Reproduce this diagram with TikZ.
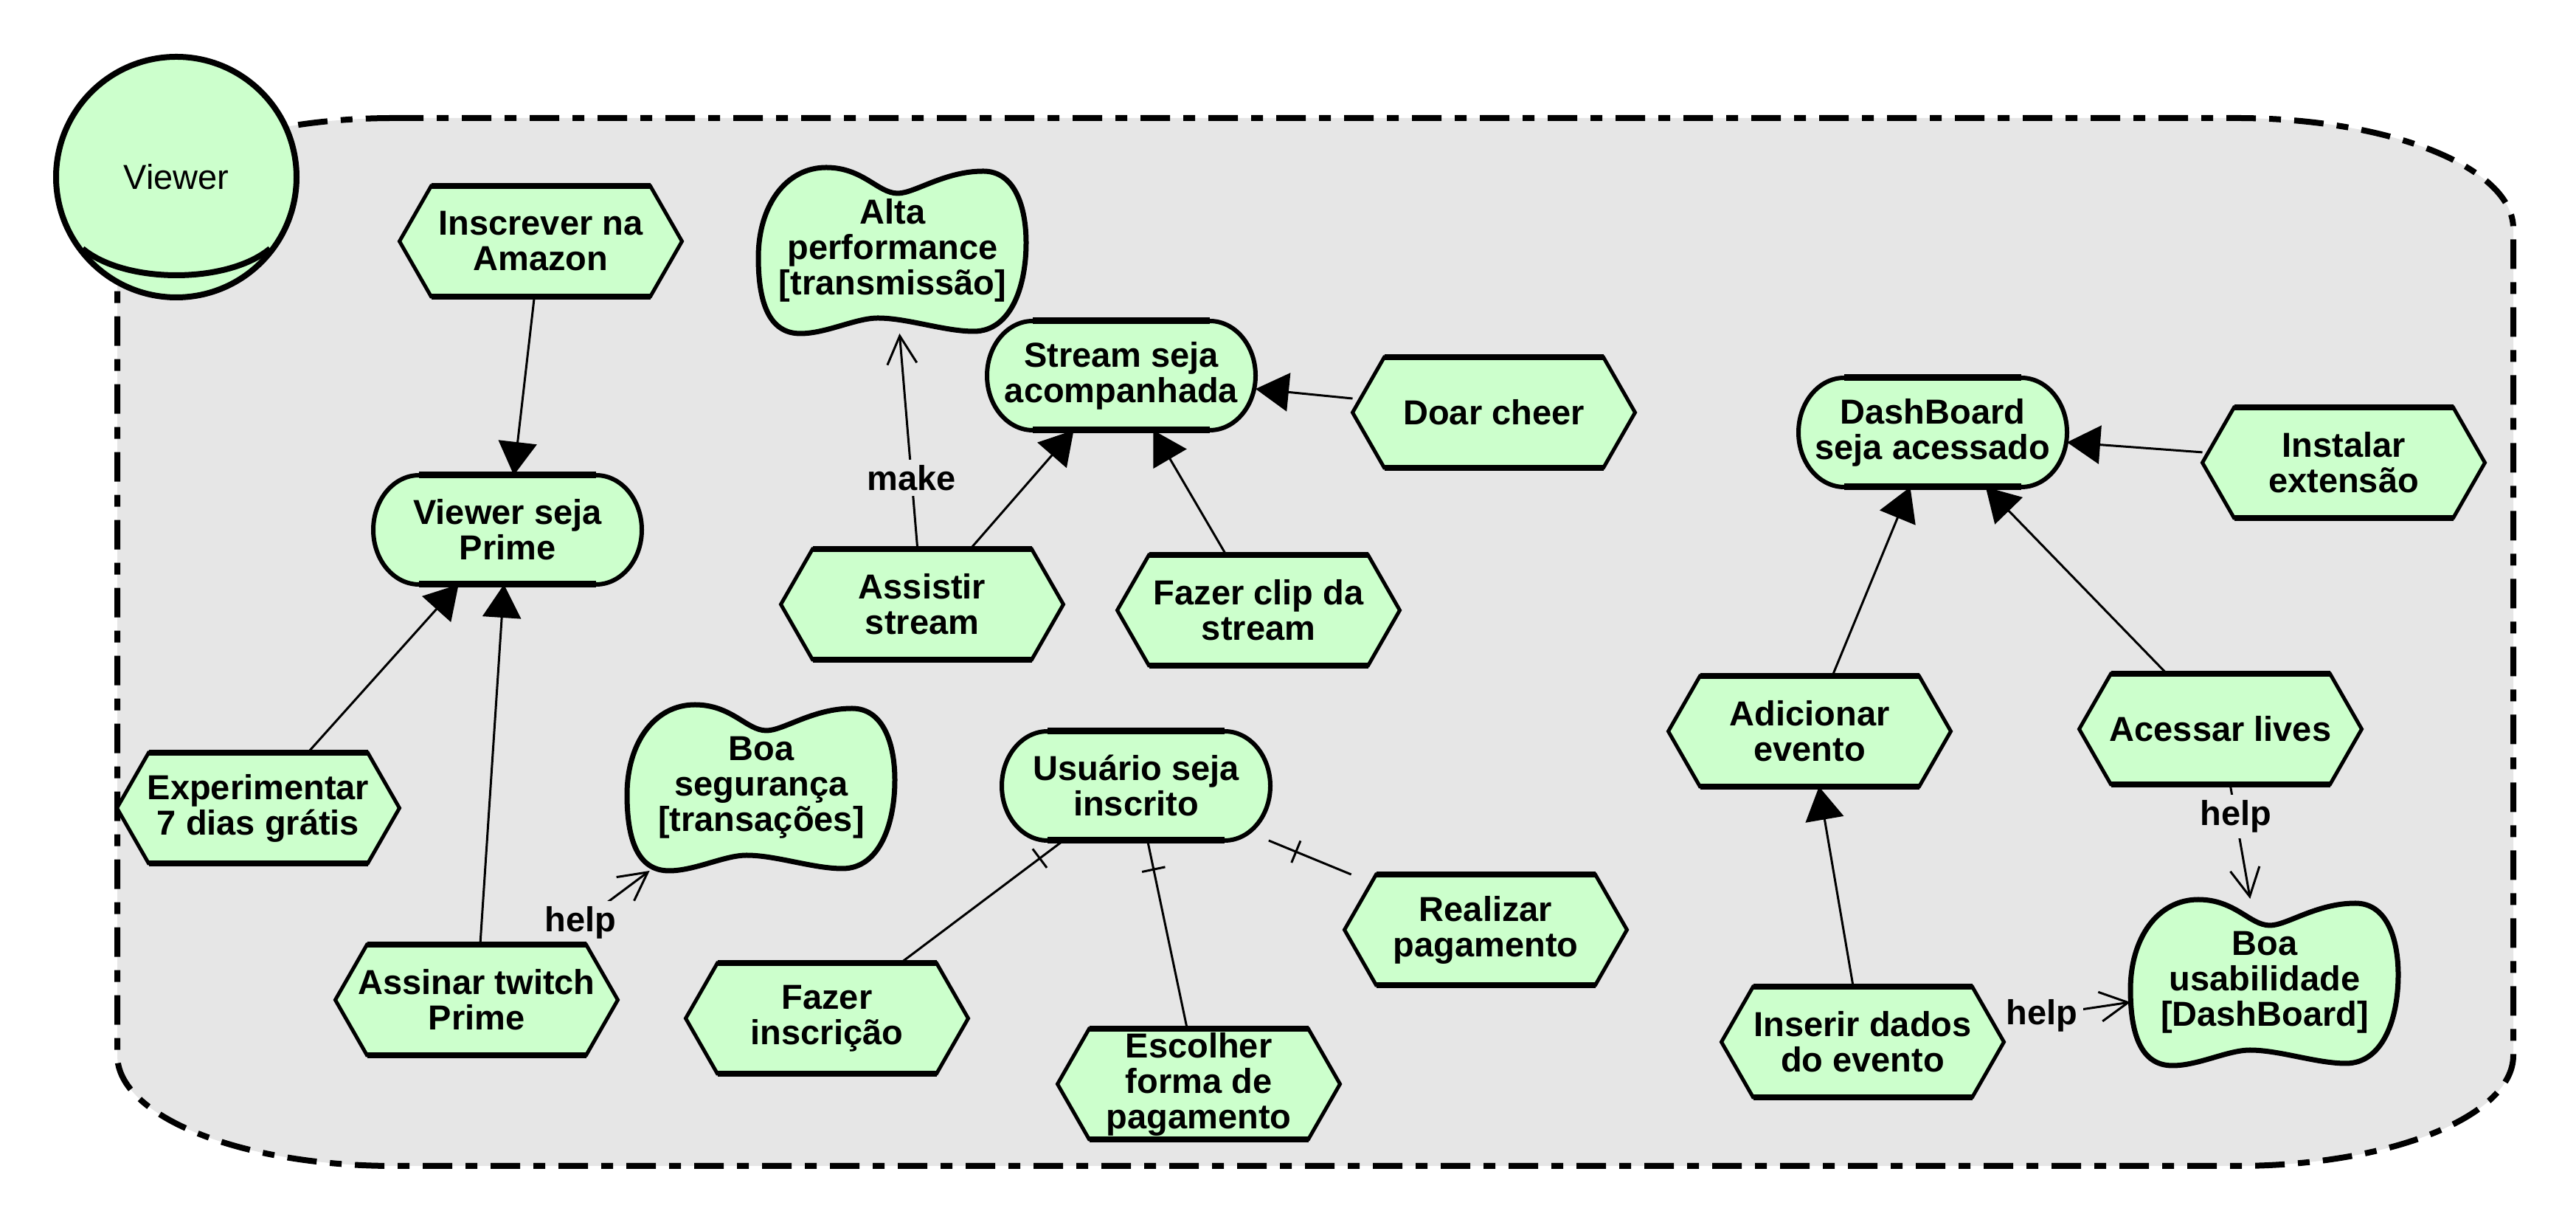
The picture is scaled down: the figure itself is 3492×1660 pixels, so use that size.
\documentclass[tikz,border=0pt]{standalone}
\usepackage{fontspec}
\setmainfont{Liberation Sans}
\usetikzlibrary{arrows.meta,calc,decorations.markings}
\definecolor{ngreen}{RGB}{204,255,204}
\definecolor{bgc}{RGB}{230,230,230}
\newcommand\pxu{0.2pt}
\pgfdeclarelayer{bglayer}
\pgfdeclarelayer{linklayer}
\pgfdeclarelayer{shapelayer}
\pgfsetlayers{bglayer,linklayer,shapelayer,main}
\tikzset{
  txt/.style={font=\bfseries\fontsize{9.4}{9.6}\selectfont, align=center, inner sep=0pt, outer sep=0pt},
  tasknode/.style={txt, minimum width=383*\pxu, minimum height=150*\pxu},
  goalnode/.style={txt, minimum width=364*\pxu, minimum height=148*\pxu},
  softnode/.style={txt, minimum width=364*\pxu, minimum height=226*\pxu},
  actornode/.style={circle, draw, fill=ngreen, line width=8*\pxu, minimum size=326*\pxu, inner sep=0pt,
    font=\fontsize{9.4}{9.6}\selectfont},
  actorline/.style={line width=8*\pxu},
  shapeedge/.style={draw, fill=ngreen, line join=miter},
  taskside/.style={shapeedge, line width=5*\pxu},
  taskedge/.style={line width=8*\pxu},
  goalside/.style={shapeedge, line width=6*\pxu},
  goaledge/.style={line width=9*\pxu},
  softedge/.style={shapeedge, line width=7*\pxu, line join=round},
  boundary/.style={fill=bgc, draw, line width=8*\pxu, dash pattern=on 8pt off 3.6pt on 3.2pt off 3.6pt},
  conn/.style={line width=3*\pxu},
  meansend/.style={conn, -{Triangle[length=9pt,width=10.4pt]}},
  contrib/.style={conn, -{Straight Barb[length=7.6pt,width=8pt]}},
  decomp/.style={conn, postaction={decorate},
    decoration={markings, mark=at position -8pt with {\draw[line width=3*\pxu] (0,-3.2pt) -- (0,3.2pt);}}},
  linklabel/.style={txt, fill=bgc, inner sep=1.5pt}
}
\newcommand\taskshape[1]{%
  \begin{scope}[shift={(#1.center)}]
    \path[taskside] (-191.5,0) -- (-148.5,-75) -- (148.5,-75) -- (191.5,0) -- (148.5,75) -- (-148.5,75) -- cycle;
    \draw[taskedge] (-148.5,-75) -- (148.5,-75) (-148.5,75) -- (148.5,75);
  \end{scope}}
\newcommand\goalshape[1]{%
  \begin{scope}[shift={(#1.center)}]
    \path[goalside] (-120,-74) -- (120,-74) arc[start angle=-90,end angle=90,x radius=62,y radius=74]
      -- (-120,74) arc[start angle=90,end angle=270,x radius=62,y radius=74] -- cycle;
    \draw[goaledge] (-120,-74) -- (120,-74) (-120,74) -- (120,74);
  \end{scope}}
\newcommand\softshape[1]{%
  \begin{scope}[shift={(#1.center)}]
    \path[softedge] (7,-77) .. controls (30,-77) and (70,-107) .. (123,-107)
      .. controls (165,-107) and (181,-60) .. (181,-10)
      .. controls (181,50) and (160,110) .. (110,110)
      .. controls (70,110) and (20,92) .. (-20,92)
      .. controls (-50,92) and (-90,113) .. (-125,113)
      .. controls (-168,113) and (-182,70) .. (-182,10)
      .. controls (-182,-60) and (-145,-112) .. (-90,-112)
      .. controls (-40,-112) and (-20,-77) .. (7,-77) -- cycle;
  \end{scope}}
\begin{document}
\begin{tikzpicture}[x=0.2pt, y=-0.2pt]
\useasboundingbox (0,0) rectangle (3492,1660);
% boundary
\begin{pgfonlayer}{bglayer}
\path[boundary] (534,160) -- (3032,160) .. controls (3239,160) and (3407,227) .. (3407,310)
  -- (3407,1430) .. controls (3407,1513) and (3239,1580) .. (3032,1580)
  -- (534,1580) .. controls (327,1580) and (159,1513) .. (159,1430)
  -- (159,310) .. controls (159,227) and (327,160) .. (534,160) -- cycle;
\end{pgfonlayer}
% actor
\node[actornode] (viewer) at (239,240) {Viewer};
\draw[actorline] ($(viewer.center)+(-127,97)$) .. controls ($(viewer.center)+(-69,145)$) and ($(viewer.center)+(69,145)$) .. ($(viewer.center)+(127,97)$);
% tasks
\node[tasknode] (ins) at (733,327) {Inscrever na\\Amazon};
\node[tasknode] (exp) at (350,1095) {Experimentar\\7 dias grátis};
\node[tasknode] (ass) at (646,1355) {Assinar twitch\\Prime};
\node[tasknode] (assist) at (1250,819) {Assistir\\stream};
\node[tasknode] (clip) at (1706,827) {Fazer clip da\\stream};
\node[tasknode] (doar) at (2025,559) {Doar cheer};
\node[tasknode] (fazins) at (1121,1380) {Fazer\\inscrição};
\node[tasknode] (esc) at (1625,1469) {Escolher\\forma de\\pagamento};
\node[tasknode] (real) at (2014,1260) {Realizar\\pagamento};
\node[tasknode] (inst) at (3177,627) {Instalar\\extensão};
\node[tasknode] (adic) at (2453,991) {Adicionar\\evento};
\node[tasknode] (acess) at (3010,988) {Acessar lives};
\node[tasknode] (inser) at (2525,1412) {Inserir dados\\do evento};
% goals
\node[goalnode] (vsp) at (688,718) {Viewer seja\\Prime};
\node[goalnode] (stream) at (1520,509) {Stream seja\\acompanhada};
\node[goalnode] (usu) at (1540,1065) {Usuário seja\\inscrito};
\node[goalnode] (dash) at (2620,586) {DashBoard\\seja acessado};
% softgoals
\node[softnode] (alta) at (1210,339) {Alta\\performance\\{[}transmissão{]}};
\node[softnode] (seg) at (1032,1067) {Boa\\segurança\\{[}transações{]}};
\node[softnode] (usab) at (3070,1331) {Boa\\usabilidade\\{[}DashBoard{]}};
% shapes
\begin{pgfonlayer}{shapelayer}
\foreach \n in {ins,exp,ass,assist,clip,doar,fazins,esc,real,inst,adic,acess,inser} {\taskshape{\n}}
\foreach \n in {vsp,stream,usu,dash} {\goalshape{\n}}
\foreach \n in {alta,seg,usab} {\softshape{\n}}
\end{pgfonlayer}
\begin{pgfonlayer}{linklayer}
% means-end links
\draw[meansend] (ins) -- (vsp);
\draw[meansend] (exp) -- (vsp);
\draw[meansend] (ass) -- (vsp);
\draw[meansend] (assist) -- (stream);
\draw[meansend] (clip) -- (stream);
\draw[meansend] (doar) -- (stream);
\draw[meansend] (inst) -- (dash);
\draw[meansend] (adic) -- (dash);
\draw[meansend] (acess) -- (dash);
\draw[meansend] (inser) -- (adic);
% contributions
\draw[contrib] (ass) -- node[linklabel, pos=0.3] {help} (seg);
\draw[contrib] (assist) -- node[linklabel, pos=0.33] {make} (alta);
\draw[contrib] (acess) -- node[linklabel, pos=0.28] {help} (usab);
\draw[contrib] (inser) -- node[linklabel, pos=0.3] {help} (usab);
% decompositions
\draw[decomp] (fazins) -- (usu);
\draw[decomp] (esc) -- (usu);
\draw[decomp] (real) -- (usu);
\end{pgfonlayer}
\end{tikzpicture}
\end{document}
